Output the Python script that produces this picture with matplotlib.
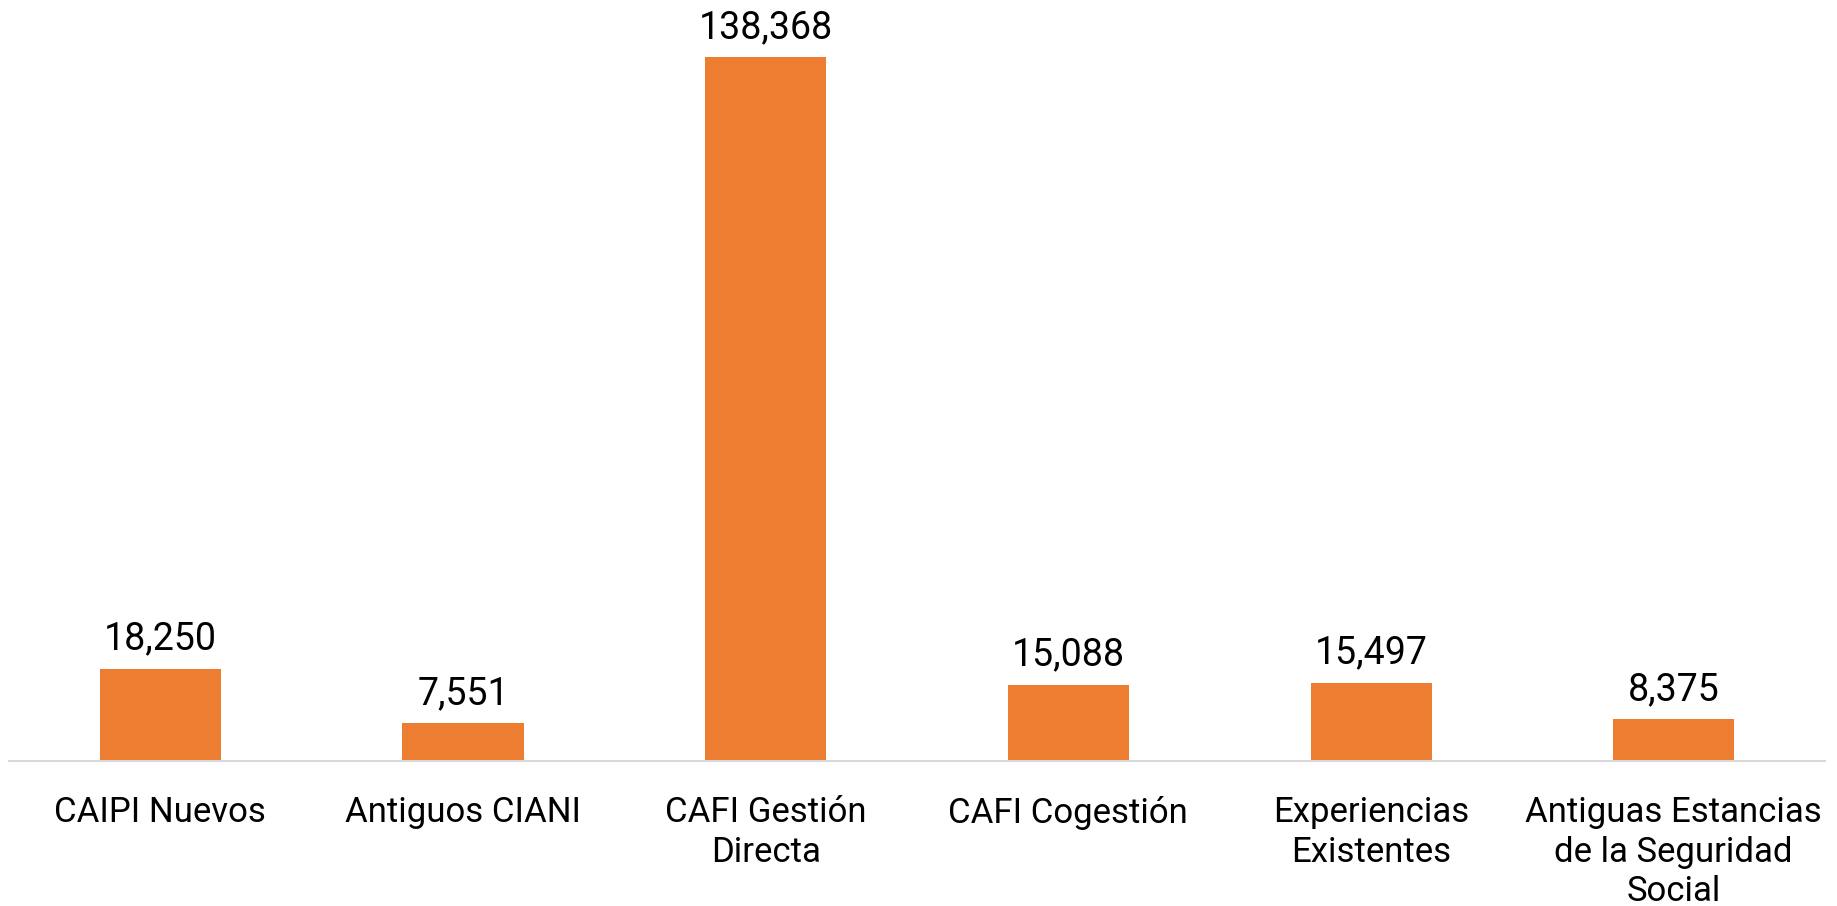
import matplotlib
matplotlib.use('Agg')
import matplotlib.pyplot as plt

# data
categories = ['CAIPI Nuevos', 'Antiguos CIANI', 'CAFI Gestión\nDirecta', 'CAFI Cogestión',
              'Experiencias\nExistentes', 'Antiguas Estancias\nde la Seguridad\nSocial']
values = [18250, 7551, 138368, 15088, 15497, 8375]

BAR_COLOR = '#ED7D31'
AXIS_COLOR = '#D9D9D9'

plt.rcParams['font.family'] = ['Roboto', 'DejaVu Sans']

fig = plt.figure(figsize=(18.37, 9.06), dpi=100)
ax = fig.add_axes([0.0049, 0.1595, 0.9886, 0.7776])

xs = list(range(len(categories)))
bars = ax.bar(xs, values, width=0.4, color=BAR_COLOR)

for x, v in zip(xs, values):
    ax.annotate('{:,}'.format(v), xy=(x, v), xytext=(0, 13.7), textcoords='offset points',
                ha='center', va='baseline', fontsize=27, color='#000000', annotation_clip=False)

ax.set_xlim(-0.5, len(categories) - 0.5)
ax.set_ylim(0, max(values))
ax.set_xticks(xs)
ax.set_xticklabels(categories, fontsize=25, linespacing=1.25, color='#000000')
ax.tick_params(axis='x', length=0, pad=25)
ax.set_yticks([])

for side in ['top', 'right', 'left']:
    ax.spines[side].set_visible(False)
ax.spines['bottom'].set_color(AXIS_COLOR)
ax.spines['bottom'].set_linewidth(1.5)

fig.savefig('out.png', dpi=100)
